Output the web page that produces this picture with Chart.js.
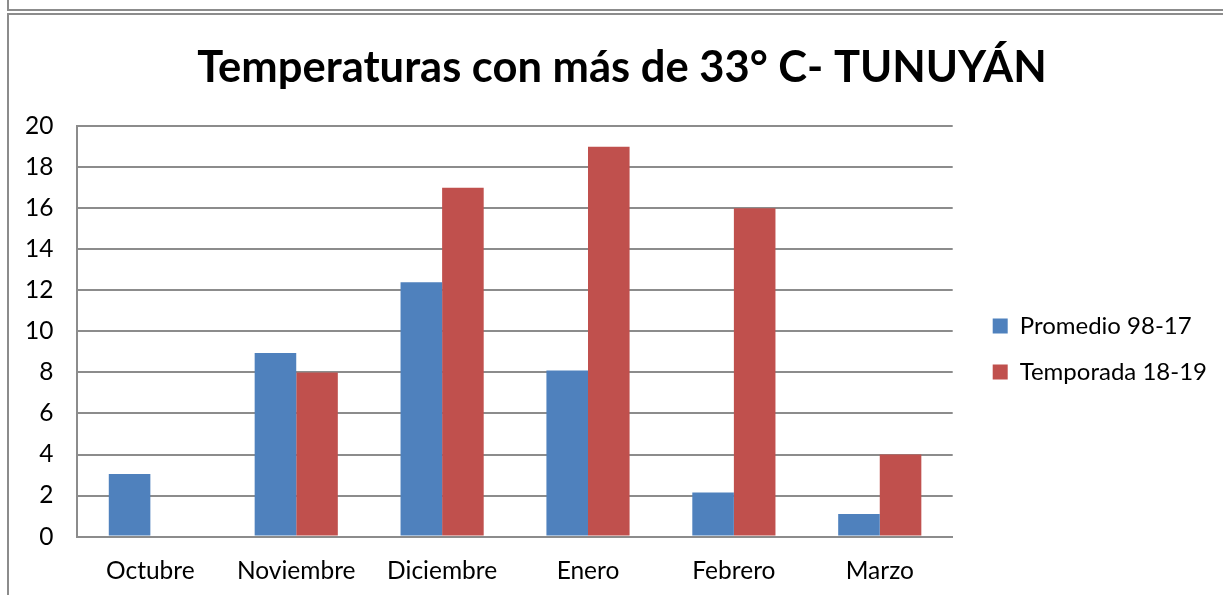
<!DOCTYPE html>
<html>
<head>
<meta charset="utf-8">
<script src="https://cdn.jsdelivr.net/npm/chart.js@4.4.0/dist/chart.umd.min.js"></script>
<style>
  html, body { margin: 0; padding: 0; background: #ffffff; overflow: hidden; }
  #wrap { position: absolute; left: 0; top: 0; width: 1223px; height: 595px; }
  #frame1 { position: absolute; left: 7px; top: -11px; width: 1300px; height: 18px; border: 2px solid #8c8c8c; }
  #frame2 { position: absolute; left: 7px; top: 13px; width: 1300px; height: 700px; border-top: 2px solid #8c8c8c; border-left: 2px solid #8c8c8c; }
  canvas { position: absolute; left: 0; top: 0; }
</style>
</head>
<body>
<div id="wrap">
  <div id="frame1"></div>
  <div id="frame2"></div>
  <canvas id="c" width="1223" height="595"></canvas>
</div>
<script>
const categories = ["Octubre", "Noviembre", "Diciembre", "Enero", "Febrero", "Marzo"];
const promedio = [3.05, 8.95, 12.4, 8.1, 2.15, 1.1];
const temporada = [0, 8, 17, 19, 16, 4];
const seriesNames = ["Promedio 98-17", "Temporada 18-19"];
const titleText = "Temperaturas con más de 33° C- TUNUYÁN";
const yTicks = [0, 2, 4, 6, 8, 10, 12, 14, 16, 18, 20];

const FONT = "Lato";
const gridColor = "#8c8c8c";

const boxShift = {
  id: "boxShift",
  afterLayout(chart) {
    const lg = chart.legend;
    if (lg) {
      const dy = 46, dx = 18;
      lg.top += dy; lg.bottom += dy;
      lg.left += dx; lg.right += dx;
      if (lg.legendHitBoxes) lg.legendHitBoxes.forEach(b => { b.top += dy; b.left += dx; });
    }
    const tb = chart.titleBlock;
    if (tb) {
      const tx = 22;
      tb.left += tx; tb.right += tx;
    }
  }
};

new Chart(document.getElementById("c"), {
  type: "bar",
  data: {
    labels: categories,
    datasets: [
      { label: seriesNames[0], data: promedio, backgroundColor: "#4f81bd", borderWidth: 0 },
      { label: seriesNames[1], data: temporada, backgroundColor: "#c0504d", borderWidth: 0 }
    ]
  },
  options: {
    responsive: false,
    animation: false,
    devicePixelRatio: 1,
    categoryPercentage: 0.57,
    barPercentage: 1.0,
    layout: { padding: { left: 1, right: 24, top: 0, bottom: -11 } },
    plugins: {
      title: {
        display: true,
        text: titleText,
        color: "#000000",
        font: { family: FONT, size: 43.5, weight: "bold" },
        padding: { top: 42, bottom: 32 }
      },
      legend: {
        position: "right",
        align: "center",
        labels: {
          color: "#000000",
          font: { family: FONT, size: 24 },
          boxWidth: 15,
          boxHeight: 15,
          padding: 22
        }
      },
      tooltip: { enabled: false }
    },
    scales: {
      x: {
        grid: { display: false, drawTicks: false },
        border: { display: true, color: gridColor, width: 2 },
        ticks: { color: "#000000", font: { family: FONT, size: 24.5 }, padding: 20, maxRotation: 0 }
      },
      y: {
        min: 0, max: 20,
        afterBuildTicks(axis) { axis.ticks = yTicks.map(v => ({ value: v })); },
        grid: { color: gridColor, lineWidth: 2, drawTicks: false },
        border: { display: true, color: gridColor, width: 2 },
        ticks: { color: "#000000", font: { family: FONT, size: 24.5 }, padding: 24 }
      }
    }
  },
  plugins: [boxShift]
});
</script>
</body>
</html>
